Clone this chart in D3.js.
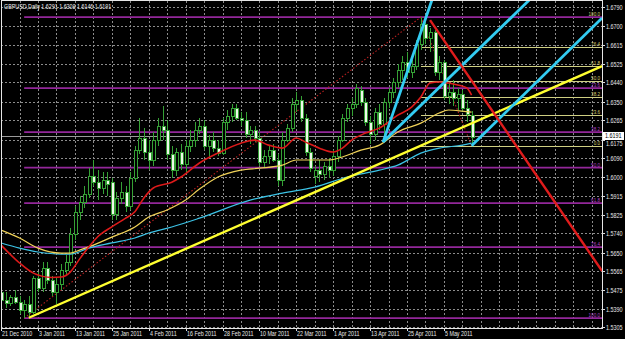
<!DOCTYPE html>
<html><head><meta charset="utf-8">
<script src="https://cdn.jsdelivr.net/npm/d3@7/dist/d3.min.js"></script>
<style>html,body{margin:0;padding:0;background:#000;overflow:hidden}svg{display:block}</style>
</head><body><svg id="c" width="625" height="339"></svg>
<script>
// ---- data (GBPUSD Daily, bar index 0 = 21 Dec 2010) ----
const opens  = [1.5467,1.5430,1.5416,1.5444,1.5421,1.5384,1.5411,1.5374,1.5532,1.5486,1.5578,1.5523,1.5467,1.5504,1.5569,1.5606,1.5736,1.5838,1.5885,1.5922,1.6005,1.5977,1.5950,1.5987,1.5977,1.5829,1.5903,1.5931,1.5866,1.5996,1.6126,1.6182,1.6117,1.6080,1.6172,1.6237,1.6219,1.6107,1.6033,1.6117,1.6061,1.6145,1.6172,1.6219,1.6237,1.6145,1.6172,1.6135,1.6112,1.6256,1.6284,1.6321,1.6275,1.6265,1.6200,1.6219,1.6182,1.6070,1.6098,1.6126,1.6080,1.5987,1.6172,1.6228,1.6339,1.6358,1.6275,1.6117,1.6005,1.6033,1.6015,1.6052,1.6033,1.6098,1.6172,1.6275,1.6321,1.6339,1.6404,1.6349,1.6256,1.6200,1.6302,1.6247,1.6349,1.6395,1.6442,1.6497,1.6534,1.6488,1.6516,1.6618,1.6711,1.6646,1.6674,1.6488,1.6534,1.6377,1.6395,1.6367,1.6386,1.6321,1.6291];
const highs  = [1.5500,1.5467,1.5453,1.5476,1.5449,1.5430,1.5449,1.5541,1.5560,1.5606,1.5606,1.5541,1.5532,1.5597,1.5639,1.5764,1.5866,1.5913,1.5959,1.6042,1.6080,1.6033,1.6024,1.6024,1.5996,1.5931,1.5977,1.5959,1.6024,1.6145,1.6275,1.6228,1.6172,1.6210,1.6275,1.6330,1.6265,1.6145,1.6135,1.6154,1.6172,1.6219,1.6256,1.6275,1.6265,1.6196,1.6210,1.6172,1.6275,1.6312,1.6339,1.6339,1.6302,1.6302,1.6237,1.6237,1.6210,1.6126,1.6145,1.6154,1.6107,1.6210,1.6247,1.6367,1.6395,1.6377,1.6293,1.6135,1.6052,1.6080,1.6070,1.6089,1.6126,1.6191,1.6293,1.6339,1.6367,1.6432,1.6423,1.6367,1.6284,1.6321,1.6339,1.6367,1.6414,1.6460,1.6525,1.6562,1.6581,1.6544,1.6636,1.6743,1.6729,1.6692,1.6683,1.6562,1.6544,1.6432,1.6451,1.6414,1.6404,1.6358,1.6308];
const lows   = [1.5407,1.5393,1.5402,1.5411,1.5365,1.5346,1.5356,1.5365,1.5467,1.5467,1.5504,1.5449,1.5411,1.5476,1.5541,1.5588,1.5708,1.5801,1.5857,1.5903,1.5959,1.5894,1.5922,1.5913,1.5801,1.5801,1.5875,1.5838,1.5848,1.5977,1.6107,1.6080,1.6033,1.6052,1.6145,1.6172,1.6080,1.5996,1.6005,1.6033,1.6024,1.6117,1.6140,1.6200,1.6126,1.6089,1.6117,1.6098,1.6103,1.6219,1.6256,1.6265,1.6237,1.6182,1.6154,1.6163,1.6052,1.6042,1.6061,1.6070,1.5959,1.5959,1.6163,1.6210,1.6302,1.6256,1.6098,1.6024,1.5968,1.5977,1.5987,1.5996,1.6005,1.6070,1.6163,1.6256,1.6284,1.6321,1.6330,1.6237,1.6154,1.6172,1.6219,1.6163,1.6321,1.6367,1.6414,1.6451,1.6460,1.6460,1.6497,1.6590,1.6618,1.6581,1.6469,1.6451,1.6358,1.6339,1.6330,1.6312,1.6302,1.6256,1.6146];
const closes = [1.5430,1.5416,1.5444,1.5421,1.5384,1.5411,1.5374,1.5532,1.5486,1.5578,1.5523,1.5467,1.5504,1.5569,1.5606,1.5736,1.5838,1.5885,1.5922,1.6005,1.5977,1.5950,1.5987,1.5968,1.5829,1.5903,1.5931,1.5866,1.5996,1.6126,1.6182,1.6117,1.6080,1.6172,1.6237,1.6219,1.6107,1.6033,1.6117,1.6061,1.6145,1.6172,1.6219,1.6237,1.6145,1.6172,1.6135,1.6112,1.6256,1.6284,1.6321,1.6275,1.6265,1.6200,1.6219,1.6182,1.6070,1.6098,1.6126,1.6080,1.5987,1.6172,1.6228,1.6339,1.6358,1.6275,1.6117,1.6042,1.6033,1.6015,1.6052,1.6033,1.6098,1.6172,1.6275,1.6321,1.6339,1.6414,1.6349,1.6256,1.6200,1.6302,1.6247,1.6349,1.6395,1.6442,1.6497,1.6534,1.6488,1.6516,1.6618,1.6711,1.6646,1.6674,1.6488,1.6534,1.6377,1.6395,1.6367,1.6386,1.6321,1.6293,1.6191];

// moving averages: [bar index, price]
const maRed = [[0,1.5685],[4,1.5602],[7,1.5555],[11,1.5535],[13,1.5537],[15,1.5560],[17,1.5620],[19,1.5676],[21,1.5725],[24,1.5770],[27,1.5810],[29,1.5840],[31,1.5905],[33,1.5950],[37,1.5977],[39,1.6001],[43,1.6066],[47,1.6112],[52,1.6158],[55,1.6172],[58,1.6149],[61,1.6135],[64,1.6182],[66,1.6163],[69,1.6135],[72,1.6117],[74,1.6135],[76,1.6172],[79,1.6205],[82,1.6228],[86,1.6288],[89,1.6325],[91,1.6372],[93,1.6437],[95,1.6442],[97,1.6437],[99,1.6428],[101,1.6414],[102,1.6381]];
const maYellow = [[0,1.5755],[4,1.5718],[8,1.5671],[13,1.5648],[15,1.5648],[17,1.5662],[20,1.5685],[24,1.5722],[29,1.5769],[32,1.5815],[36,1.5848],[40,1.5894],[43,1.5945],[47,1.6001],[52,1.6033],[56,1.6042],[61,1.6056],[64,1.6080],[68,1.6080],[71,1.6080],[74,1.6094],[78,1.6126],[82,1.6149],[86,1.6210],[91,1.6251],[95,1.6298],[97,1.6312],[100,1.6307],[102,1.6302]];
const maCyan = [[0,1.5695],[4,1.5671],[8,1.5653],[13,1.5643],[15,1.5643],[19,1.5671],[24,1.5695],[29,1.5718],[32,1.5741],[37,1.5769],[43,1.5810],[54,1.5894],[61,1.5926],[68,1.5954],[75,1.6001],[82,1.6033],[86,1.6056],[91,1.6112],[95,1.6135],[100,1.6149],[102,1.6158]];

// drawn objects: [bar index, price] anchors
const trendYellow = [[6,1.5348],[130.3,1.6516]];
const trendRed = [[93,1.6729],[130.3,1.5565]];
const cyanLines = [[[82.8,1.6163],[93.4,1.6822]],[[82.8,1.6163],[114.5,1.6822]],[[102,1.6146],[130.3,1.6739]]];
const fibHigh = [91,1.6743], fibLowA = [5,1.5346], fibLowB = [102,1.6146];
const fibLevels = [0,23.6,38.2,50.0,61.8,76.4,100.0];

const priceTicks = [1.6790,1.6700,1.6615,1.6525,1.6440,1.6350,1.6265,1.6175,1.6090,1.6000,1.5915,1.5825,1.5740,1.5650,1.5565,1.5475,1.5390,1.5305];
const dateLabels = ["21 Dec 2010","3 Jan 2011","13 Jan 2011","25 Jan 2011","4 Feb 2011","16 Feb 2011","28 Feb 2011","10 Mar 2011","22 Mar 2011","1 Apr 2011","13 Apr 2011","25 Apr 2011","5 May 2011"];
const dateStep = 8, gridStep = 4;
const title = "GBPUSD,Daily  1.6291 1.6308 1.6146 1.6191";
const lastPrice = 1.6191;

// ---- layout ----
const L = 1, R = 602, T = 1, B = 328;
const x = d3.scaleLinear().domain([0,130]).range([1.1, 1.1 + 130*4.6125]);
const y = d3.scaleLinear().domain([1.5305,1.6790]).range([327,7]);
const svg = d3.select("#c");
svg.append("rect").attr("width",625).attr("height",339).attr("fill","#000");
svg.append("defs").append("clipPath").attr("id","clip").append("rect")
  .attr("x",L).attr("y",T).attr("width",R-L).attr("height",B-T);
const font = "'Liberation Sans', Arial, sans-serif";
const SX = 0.85;
function label(parent, tx, ty, str, size, fill, anchor) {
  return parent.append("text")
    .attr("transform", `translate(${tx},${ty}) scale(${SX},1)`)
    .attr("text-anchor", anchor || "start")
    .attr("fill", fill).attr("font-family", font).attr("font-size", size).text(str);
}

// grid
const grid = svg.append("g").attr("stroke","#8c8c8c").attr("stroke-dasharray","2,2").attr("shape-rendering","crispEdges");
priceTicks.forEach(p => grid.append("line").attr("x1",L).attr("x2",R).attr("y1",Math.round(y(p))+0.5).attr("y2",Math.round(y(p))+0.5));
for (let i = gridStep; x(i) < R; i += gridStep)
  grid.append("line").attr("y1",T).attr("y2",B).attr("x1",Math.round(x(i))+0.5).attr("x2",Math.round(x(i))+0.5);

const plot = svg.append("g").attr("clip-path","url(#clip)");
const lineGen = d3.line().x(d=>x(d[0])).y(d=>y(d[1]));

// purple fib (low A to high)
const rangeA = fibHigh[1]-fibLowA[1];
fibLevels.forEach(l => {
  const p = fibHigh[1] - rangeA*l/100;
  plot.append("line").attr("x1",x(fibLowA[0])).attr("x2",R).attr("y1",y(p)).attr("y2",y(p))
    .attr("stroke","#93279a").attr("stroke-width",1.6);
});
// yellow fib (high to low B)
const rangeB = fibHigh[1]-fibLowB[1];
fibLevels.forEach(l => {
  const p = fibLowB[1] + rangeB*l/100;
  if (l===100) return;
  plot.append("line").attr("x1",x(fibHigh[0])).attr("x2",R).attr("y1",Math.round(y(p))+0.5).attr("y2",Math.round(y(p))+0.5)
    .attr("stroke","#cfcf82").attr("stroke-width",1).attr("shape-rendering","crispEdges");
});
// fib diagonals (dotted)
plot.append("path").attr("d",lineGen([fibLowA,fibHigh])).attr("stroke","#b82020").attr("stroke-width",1.1).attr("stroke-dasharray","1.5,2").attr("fill","none");
plot.append("path").attr("d",lineGen([fibHigh,fibLowB])).attr("stroke","#b82020").attr("stroke-width",1.1).attr("stroke-dasharray","1.5,2").attr("fill","none");

// bid line
plot.append("line").attr("x1",L).attr("x2",R).attr("y1",Math.round(y(lastPrice))+0.5).attr("y2",Math.round(y(lastPrice))+0.5)
  .attr("stroke","#9a9a9a").attr("shape-rendering","crispEdges");

// candles
const green = "#35a135";
const cg = plot.append("g").attr("shape-rendering","crispEdges");
opens.forEach((o,i) => {
  const cx = Math.round(x(i)) + 0.5;
  cg.append("line").attr("x1",cx).attr("x2",cx).attr("y1",y(highs[i])).attr("y2",y(lows[i])).attr("stroke",green);
  const y0 = y(Math.max(o,closes[i])), y1 = y(Math.min(o,closes[i]));
  cg.append("rect").attr("x",cx-1.5).attr("y",Math.round(y0)+0.5).attr("width",3).attr("height",Math.max(1,Math.round(y1-y0)))
    .attr("fill", closes[i] >= o ? "#000" : "#eef8ea").attr("stroke",green);
});

// moving averages
const curve = d3.line().x(d=>x(d[0])).y(d=>y(d[1])).curve(d3.curveMonotoneX);
plot.append("path").attr("d",curve(maCyan)).attr("stroke","#3cc3e6").attr("stroke-width",1.2).attr("fill","none");
plot.append("path").attr("d",curve(maYellow)).attr("stroke","#f0d258").attr("stroke-width",1.2).attr("fill","none");
plot.append("path").attr("d",curve(maRed)).attr("stroke","#dc1a1a").attr("stroke-width",1.6).attr("fill","none");

// trend lines
plot.append("path").attr("d",lineGen(trendYellow)).attr("stroke","#ffff30").attr("stroke-width",2.4).attr("fill","none");
cyanLines.forEach(c => plot.append("path").attr("d",lineGen(c)).attr("stroke","#33ccf2").attr("stroke-width",2.8).attr("fill","none"));
plot.append("path").attr("d",lineGen(trendRed)).attr("stroke","#e01c1c").attr("stroke-width",2.4).attr("fill","none");

// fib labels
fibLevels.forEach(l => {
  const p = fibHigh[1] - rangeA*l/100;
  if (l===0) return;
  label(svg, 600, y(p)-1, l.toFixed(1), 5.4, "#b040c8", "end");
});
fibLevels.forEach(l => {
  const p = fibLowB[1] + rangeB*l/100;
  label(svg, 600, y(p)-1, l.toFixed(1), 5.4, "#d6cf72", "end");
});

// frame
svg.append("rect").attr("x",L+0.5).attr("y",T-0.5).attr("width",R-L).attr("height",B-T+0.5)
  .attr("fill","none").attr("stroke","#e6e6e6").attr("shape-rendering","crispEdges");

// price axis
const by = Math.round(y(lastPrice));
priceTicks.forEach(p => {
  const yy = Math.round(y(p))+0.5;
  svg.append("line").attr("x1",R).attr("x2",R+3).attr("y1",yy).attr("y2",yy).attr("stroke","#ddd").attr("shape-rendering","crispEdges");
  // the label just under the last-price box peeks out below it
  const ty = Math.abs(yy - by) < 6 ? by + 9.5 : yy + 2.2;
  label(svg, 606, ty, p.toFixed(4), 6.4, "#e8e8e8");
});
// last price box
svg.append("rect").attr("x",R+1).attr("y",by-4).attr("width",21).attr("height",8).attr("fill","#fff");
label(svg, 605, by+2.3, lastPrice.toFixed(4), 6.4, "#000");

// date axis
dateLabels.forEach((t,k) => {
  const xx = Math.round(x(k*dateStep))+0.5;
  svg.append("line").attr("x1",xx).attr("x2",xx).attr("y1",B).attr("y2",B+3).attr("stroke","#ddd").attr("shape-rendering","crispEdges");
  label(svg, xx+0.5, 335.5, t, 6.3, "#e8e8e8");
});

// title
label(svg, 4, 8.5, title, 6.3, "#f0f0f0");
</script></body></html>
